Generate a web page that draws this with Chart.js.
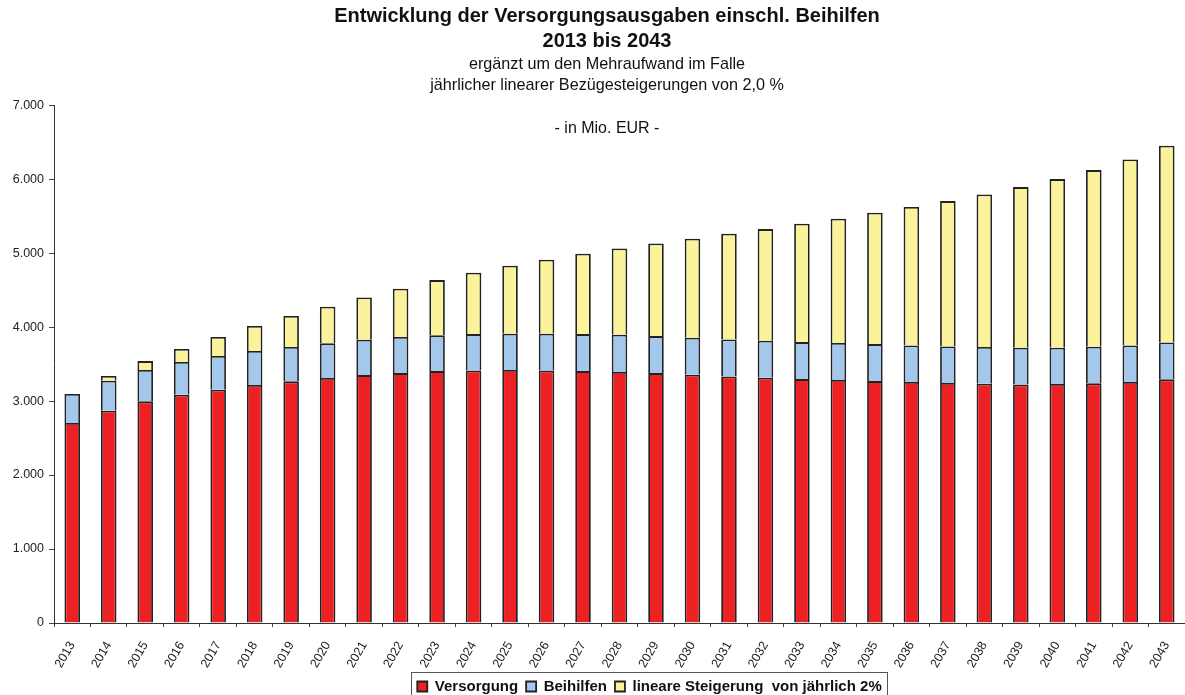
<!DOCTYPE html>
<html>
<head>
    <title>Entwicklung der Versorgungsausgaben</title>
    <script src="https://cdn.jsdelivr.net/npm/chart.js@4.4.0/dist/chart.umd.min.js"></script>
    <style>
        body { margin: 0; background: #fff; }
        #wrap { width: 1185px; height: 695px; }
    </style>
</head>

<body>
    <div id="wrap"><canvas id="barChart"></canvas></div>

    <script>
        // Jahre
        var years = ['2013','2014','2015','2016','2017','2018','2019','2020','2021','2022',
                     '2023','2024','2025','2026','2027','2028','2029','2030','2031','2032',
                     '2033','2034','2035','2036','2037','2038','2039','2040','2041','2042','2043'];

        // Versorgung (Mio. EUR)
        var versorgung = [2705, 2870, 2996, 3085, 3153, 3216, 3266, 3311, 3351, 3378,
                          3405, 3414, 3419, 3414, 3405, 3392, 3378, 3356, 3333, 3315,
                          3297, 3284, 3270, 3257, 3243, 3234, 3225, 3230, 3239, 3257, 3293];

        // Beihilfen (Mio. EUR)
        var beihilfen = [390, 405, 423, 442, 455, 460, 464, 469, 477, 487,
                         483, 491, 491, 496, 500, 504, 500, 499, 500, 500,
                         500, 500, 500, 495, 496, 496, 495, 490, 495, 495, 500];

        // Mehraufwand lineare Steigerung 2% (Mio. EUR)
        var steigerung = [0, 63, 121, 176, 257, 338, 419, 495, 573, 653,
                          747, 829, 919, 1000, 1086, 1167, 1253, 1338, 1428, 1509,
                          1599, 1680, 1775, 1870, 1964, 2063, 2172, 2280, 2388, 2514, 2657];

        var fontFamily = '"Liberation Sans", Arial, sans-serif';

        function deNumber(v) {
            return String(v).replace(/\B(?=(\d{3})+(?!\d))/g, '.');
        }

        var extras = {
            id: 'extras',
            // Titel etwas nach rechts, Legende mittig unter dem rechten Teil
            afterLayout: function(chart) {
                chart.boxes.forEach(function(b) {
                    if (b.position === 'top' && b.options && b.options.text) {
                        b.left = 29;
                    }
                });
                chart.legend.left = 114;
            },
            // "- in Mio. EUR -" im Diagramm + Rahmen um die Legende
            afterDraw: function(chart) {
                const ctx = chart.ctx;
                ctx.save();
                ctx.font = '16px ' + fontFamily;
                ctx.fillStyle = '#111';
                ctx.textAlign = 'center';
                ctx.textBaseline = 'middle';
                ctx.fillText('- in Mio. EUR -', 607, chart.chartArea.top + 23);

                const boxes = chart.legend.legendHitBoxes;
                if (boxes && boxes.length) {
                    let minX = boxes[0].left, maxX = 0;
                    boxes.forEach(function(b) {
                        minX = Math.min(minX, b.left);
                        maxX = Math.max(maxX, b.left + b.width);
                    });
                    ctx.strokeStyle = '#555';
                    ctx.lineWidth = 1;
                    ctx.strokeRect(Math.round(minX - 6) + 0.5, 672.5,
                                   Math.round(maxX - minX + 12), 30);
                }
                ctx.restore();
            }
        };

        new Chart('barChart', {
            type: 'bar',
            data: {
                labels: years,
                datasets: [{
                    label: 'Versorgung',
                    data: versorgung,
                    backgroundColor: '#ED2024',
                    borderColor: '#222',
                    borderWidth: 1.8
                }, {
                    label: 'Beihilfen',
                    data: beihilfen,
                    backgroundColor: '#A3C8EC',
                    borderColor: '#222',
                    borderWidth: 1.8
                }, {
                    label: 'lineare Steigerung  von jährlich 2%',
                    data: steigerung,
                    backgroundColor: '#FAF39B',
                    borderColor: '#222',
                    borderWidth: 1.8
                }]
            },
            options: {
                responsive: true,
                maintainAspectRatio: false,
                animation: false,
                datasets: {
                    bar: { categoryPercentage: 0.82, barPercentage: 0.52 }
                },
                layout: { padding: 0 },
                scales: {
                    x: {
                        stacked: true,
                        grid: { display: true, drawOnChartArea: false, drawTicks: true, tickLength: 4, color: '#444' },
                        border: { color: '#333', width: 1 },
                        ticks: {
                            autoSkip: false,
                            minRotation: 60,
                            maxRotation: 60,
                            padding: 12,
                            color: '#222',
                            font: { family: fontFamily, size: 12.5 }
                        },
                        afterFit: function(s) { s.height = 48; s.paddingRight = 0; }
                    },
                    y: {
                        stacked: true,
                        min: 0,
                        max: 7000,
                        grid: { display: true, drawOnChartArea: false, drawTicks: true, tickLength: 5, color: '#444' },
                        border: { color: '#333', width: 1 },
                        ticks: {
                            stepSize: 1000,
                            padding: 5,
                            color: '#222',
                            font: { family: fontFamily, size: 12.5 },
                            callback: function(v) { return deNumber(v); }
                        },
                        afterFit: function(s) { s.width = 54; }
                    }
                },
                plugins: {
                    title: {
                        display: true,
                        text: ['Entwicklung der Versorgungsausgaben einschl. Beihilfen', '2013 bis 2043'],
                        color: '#111',
                        font: { family: fontFamily, size: 20, weight: 'bold', lineHeight: 1.25 },
                        padding: { top: 4, bottom: 0 }
                    },
                    subtitle: {
                        display: true,
                        text: ['ergänzt um den Mehraufwand im Falle', 'jährlicher linearer Bezügesteigerungen von 2,0 %'],
                        color: '#111',
                        font: { family: fontFamily, size: 16.2, lineHeight: 1.3 },
                        padding: { top: 0, bottom: 9 }
                    },
                    legend: {
                        position: 'bottom',
                        maxHeight: 24,
                        labels: {
                            boxWidth: 10,
                            boxHeight: 10,
                            padding: 8,
                            color: '#111',
                            font: { family: fontFamily, size: 15, weight: 'bold' }
                        }
                    },
                    tooltip: { enabled: false }
                }
            },
            plugins: [extras]
        });
    </script>
</body>
</html>
